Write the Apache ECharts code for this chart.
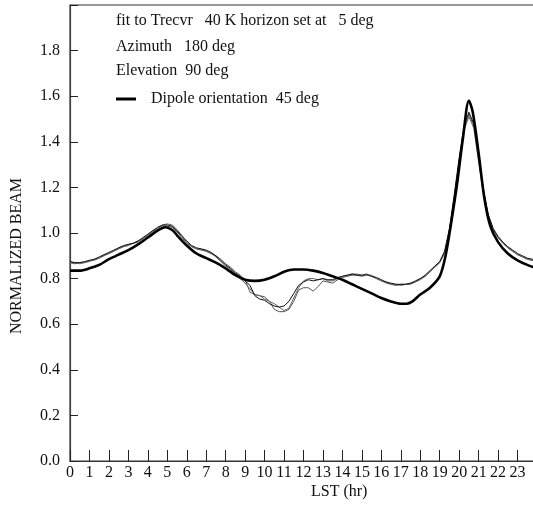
<!DOCTYPE html>
<html>
<head>
<meta charset="utf-8">
<script src="https://cdn.jsdelivr.net/npm/echarts@6/dist/echarts.min.js"></script>
<style>html,body{margin:0;padding:0;background:#fff;overflow:hidden;width:533px;height:506px;}#c{width:545px;height:506px;}</style>
</head>
<body>
<div id="c"></div>
<script>
// Axis ticks
const xTicks = [0,1,2,3,4,5,6,7,8,9,10,11,12,13,14,15,16,17,18,19,20,21,22,23];
const yTicks = [0.0,0.2,0.4,0.6,0.8,1.0,1.2,1.4,1.6,1.8];

// Model (thick) curve: LST hours and normalized beam
const modelLst = [0,0.5,1,1.5,2,2.5,3,3.5,4,4.5,4.9,5.3,5.5,6,6.5,7,7.5,8,8.5,9,9.5,10,10.5,11,11.5,12,12.5,13,13.5,14,14.5,15,15.5,16,16.5,17,17.3,17.6,18,18.5,19,19.3,19.6,19.9,20.2,20.5,20.7,21,21.3,21.6,22,22.5,23,23.5,24];
const modelBeam = [0.835,0.835,0.845,0.86,0.885,0.905,0.925,0.95,0.98,1.01,1.025,1.01,0.99,0.945,0.91,0.89,0.87,0.845,0.815,0.795,0.79,0.795,0.81,0.83,0.84,0.84,0.835,0.825,0.81,0.795,0.775,0.755,0.735,0.715,0.70,0.69,0.69,0.70,0.73,0.76,0.81,0.90,1.05,1.22,1.42,1.58,1.53,1.35,1.15,1.03,0.96,0.91,0.88,0.86,0.845];

// Measured (thin) curves, sampled every 15 min
const dataLst = [0,0.25,0.5,0.75,1,1.25,1.5,1.75,2,2.25,2.5,2.75,3,3.25,3.5,3.75,4,4.25,4.5,4.75,5,5.25,5.5,5.75,6,6.25,6.5,6.75,7,7.25,7.5,7.75,8,8.25,8.5,8.75,9,9.25,9.5,9.75,10,10.25,10.5,10.75,11,11.25,11.5,11.75,12,12.25,12.5,12.75,13,13.25,13.5,13.75,14,14.25,14.5,14.75,15,15.25,15.5,15.75,16,16.25,16.5,16.75,17,17.25,17.5,17.75,18,18.25,18.5,18.75,19,19.25,19.5,19.75,20,20.25,20.5,20.75,21,21.25,21.5,21.75,22,22.25,22.5,22.75,23,23.25,23.5,23.75,24];
const beamA = [0.875,0.87,0.87,0.875,0.88,0.885,0.895,0.905,0.915,0.925,0.935,0.945,0.95,0.955,0.965,0.98,0.995,1.01,1.025,1.035,1.035,1.03,1.01,0.985,0.965,0.945,0.935,0.93,0.925,0.915,0.90,0.88,0.86,0.845,0.825,0.81,0.79,0.77,0.725,0.71,0.705,0.69,0.68,0.675,0.68,0.70,0.735,0.77,0.785,0.795,0.79,0.795,0.80,0.795,0.795,0.805,0.81,0.815,0.82,0.815,0.815,0.82,0.81,0.805,0.795,0.785,0.78,0.775,0.775,0.775,0.78,0.79,0.80,0.815,0.835,0.855,0.875,0.92,1.02,1.17,1.33,1.47,1.53,1.48,1.33,1.19,1.08,1.02,0.985,0.96,0.94,0.925,0.91,0.90,0.89,0.885,0.88];
const beamB = [0.87,0.865,0.87,0.87,0.875,0.885,0.89,0.9,0.91,0.92,0.93,0.94,0.945,0.955,0.96,0.975,0.99,1.005,1.02,1.03,1.03,1.025,1.005,0.98,0.955,0.94,0.93,0.925,0.92,0.91,0.895,0.875,0.855,0.84,0.82,0.80,0.78,0.755,0.73,0.725,0.72,0.70,0.665,0.655,0.655,0.665,0.70,0.75,0.76,0.76,0.745,0.765,0.79,0.785,0.78,0.795,0.805,0.81,0.815,0.815,0.81,0.815,0.81,0.80,0.79,0.785,0.775,0.77,0.775,0.775,0.775,0.785,0.795,0.81,0.83,0.85,0.87,0.915,1.01,1.16,1.32,1.46,1.52,1.47,1.32,1.18,1.075,1.015,0.98,0.955,0.935,0.92,0.905,0.895,0.885,0.88,0.875];
const beamC = [0.87,0.87,0.865,0.87,0.88,0.88,0.89,0.905,0.91,0.92,0.935,0.94,0.95,0.955,0.965,0.975,0.99,1.01,1.02,1.035,1.04,1.035,1.015,0.99,0.96,0.94,0.93,0.93,0.92,0.91,0.90,0.885,0.865,0.85,0.83,0.815,0.795,0.74,0.73,0.725,0.71,0.70,0.69,0.675,0.66,0.67,0.715,0.76,0.79,0.80,0.80,0.795,0.80,0.79,0.79,0.80,0.81,0.815,0.82,0.82,0.815,0.815,0.815,0.80,0.79,0.78,0.775,0.775,0.77,0.775,0.78,0.785,0.80,0.81,0.83,0.85,0.87,0.91,1.0,1.15,1.31,1.45,1.51,1.46,1.31,1.17,1.07,1.01,0.98,0.955,0.935,0.92,0.905,0.895,0.885,0.88,0.875];

const annotations = ['fit to Trecvr   40 K horizon set at   5 deg','Azimuth   180 deg','Elevation  90 deg'];
const legendName = 'Dipole orientation  45 deg';

function pairs(xs, ys){ return xs.map((x,i)=>[x, ys[i]]); }

const FONT = 'Liberation Serif';
const FS = 16;
const chart = echarts.init(document.getElementById('c'), null, {renderer:'canvas'});
chart.setOption({
  animation:false,
  backgroundColor:'#fff',
  grid:{left:70, top:5, right:8, bottom:45, show:true, borderColor:'#333', borderWidth:1.2},
  xAxis:{
    type:'value', min:0, max:24, interval:1,
    axisLine:{lineStyle:{color:'#333', width:1.2}},
    axisTick:{inside:true, length:11, lineStyle:{color:'#222', width:1}},
    axisLabel:{color:'#111', fontFamily:FONT, fontSize:FS, margin:4,
      formatter:v=> xTicks.indexOf(v)>=0 ? String(v) : ''},
    splitLine:{show:false}
  },
  yAxis:{
    type:'value', min:0, max:2.0, interval:0.2,
    axisLine:{show:true, lineStyle:{color:'#444', width:1.2}},
    axisTick:{show:true, inside:true, length:8, lineStyle:{color:'#222', width:1}},
    axisLabel:{color:'#111', fontFamily:FONT, fontSize:FS, margin:10,
      formatter:v=>{ const f = yTicks.find(t=>Math.abs(t-v)<1e-6); return f===undefined ? '' : f.toFixed(1); }},
    splitLine:{show:false}
  },
  legend:{
    data:[{name:legendName, icon:'rect', itemStyle:{color:'#000'}}], left:116, top:91, padding:0, itemWidth:20, itemHeight:3, itemGap:0,
    textStyle:{fontFamily:FONT, fontSize:FS, color:'#111', padding:[0,0,0,10]}
  },
  graphic:[
    {type:'text', left:116, top:13, style:{text:annotations[0], font:FS+'px "Liberation Serif"', fill:'#111'}},
    {type:'text', left:116, top:39, style:{text:annotations[1], font:FS+'px "Liberation Serif"', fill:'#111'}},
    {type:'text', left:116, top:63, style:{text:annotations[2], font:FS+'px "Liberation Serif"', fill:'#111'}},
    {type:'text', left:311, top:484, style:{text:'LST (hr)', font:FS+'px "Liberation Serif"', fill:'#111'}},
    {type:'text', left:9, top:178, rotation:Math.PI/2, style:{text:'NORMALIZED BEAM', font:FS+'px "Liberation Serif"', fill:'#111'}}
  ],
  series:[
    {name:'data1', type:'line', data:pairs(dataLst, beamB), showSymbol:false, symbol:'none', lineStyle:{color:'#555', width:1}, itemStyle:{color:'#555'}, z:2},
    {name:'data2', type:'line', data:pairs(dataLst, beamC), showSymbol:false, symbol:'none', lineStyle:{color:'#666', width:1}, itemStyle:{color:'#666'}, z:2},
    {name:'data3', type:'line', data:pairs(dataLst, beamA), showSymbol:false, symbol:'none', lineStyle:{color:'#111', width:1}, itemStyle:{color:'#111'}, z:3},
    {name:legendName, type:'line', data:pairs(modelLst, modelBeam), showSymbol:false, symbol:'none', smooth:0.3, lineStyle:{color:'#000', width:2.6}, itemStyle:{color:'#000'}, z:4}
  ]
});
</script>
</body>
</html>
